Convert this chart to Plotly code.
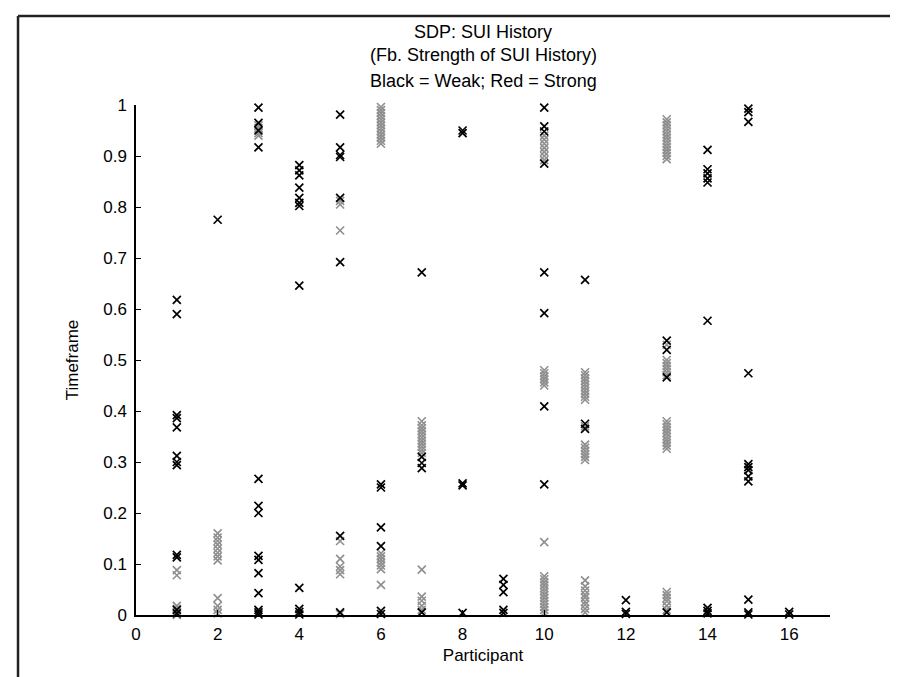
import plotly.graph_objects as go

participants = list(range(1, 17))

# Timeframe values per participant (index 0 -> participant 1)
weak_timeframes = [
    [0.618, 0.590, 0.392, 0.386, 0.368, 0.312, 0.300, 0.294, 0.118, 0.113, 0.010, 0.003],
    [0.775],
    [0.995, 0.965, 0.950, 0.917, 0.267, 0.214, 0.200, 0.116, 0.108, 0.082, 0.043, 0.010, 0.005, 0.001],
    [0.882, 0.872, 0.862, 0.838, 0.818, 0.808, 0.802, 0.646, 0.053, 0.012, 0.006, 0.001],
    [0.981, 0.917, 0.902, 0.898, 0.818, 0.692, 0.155, 0.005],
    [0.256, 0.250, 0.172, 0.135, 0.008, 0.002],
    [0.672, 0.310, 0.298, 0.288, 0.005],
    [0.950, 0.945, 0.258, 0.254, 0.004],
    [0.071, 0.059, 0.045, 0.010, 0.004],
    [0.995, 0.958, 0.948, 0.885, 0.672, 0.592, 0.409, 0.256],
    [0.657, 0.375, 0.365],
    [0.029, 0.006, 0.002],
    [0.538, 0.520, 0.466, 0.005],
    [0.912, 0.874, 0.866, 0.856, 0.848, 0.577, 0.014, 0.008, 0.003],
    [0.993, 0.986, 0.967, 0.474, 0.296, 0.290, 0.284, 0.272, 0.262, 0.030, 0.005, 0.001],
    [0.006, 0.001],
]

strong_timeframes = [
    [0.088, 0.078, 0.018, 0.012, 0.006, 0.0],
    [0.160, 0.152, 0.145, 0.138, 0.130, 0.122, 0.115, 0.107, 0.033, 0.018, 0.010, 0.003],
    [0.960, 0.955, 0.945, 0.940],
    [],
    [0.812, 0.805, 0.754, 0.145, 0.110, 0.095, 0.088, 0.080, 0.002],
    [0.996, 0.990, 0.984, 0.978, 0.972, 0.966, 0.960, 0.954, 0.948, 0.942, 0.936, 0.930, 0.924,
     0.121, 0.115, 0.109, 0.103, 0.097, 0.090, 0.059],
    [0.380, 0.372, 0.366, 0.360, 0.354, 0.348, 0.342, 0.336, 0.330, 0.324, 0.318,
     0.089, 0.036, 0.028, 0.018, 0.010],
    [],
    [],
    [0.940, 0.932, 0.924, 0.916, 0.908, 0.900, 0.892, 0.480, 0.474, 0.468, 0.462, 0.456, 0.450,
     0.143, 0.076, 0.070, 0.064, 0.058, 0.052, 0.046, 0.040, 0.034, 0.028, 0.022, 0.016, 0.010, 0.004],
    [0.476, 0.470, 0.464, 0.458, 0.452, 0.446, 0.440, 0.434, 0.428, 0.422, 0.370,
     0.334, 0.328, 0.322, 0.316, 0.310, 0.304,
     0.068, 0.056, 0.048, 0.040, 0.034, 0.026, 0.020, 0.012, 0.005],
    [],
    [0.972, 0.966, 0.960, 0.954, 0.948, 0.942, 0.936, 0.930, 0.924, 0.918, 0.912, 0.906, 0.900, 0.894,
     0.530, 0.500, 0.494, 0.488, 0.482, 0.476, 0.470,
     0.380, 0.374, 0.368, 0.362, 0.356, 0.350, 0.344, 0.338, 0.332, 0.326,
     0.045, 0.039, 0.033, 0.027, 0.018, 0.010],
    [],
    [],
    [],
]

x_ticks = [0, 2, 4, 6, 8, 10, 12, 14, 16]
y_ticks = [0, 0.1, 0.2, 0.3, 0.4, 0.5, 0.6, 0.7, 0.8, 0.9, 1]
y_tick_labels = ["0", "0.1", "0.2", "0.3", "0.4", "0.5", "0.6", "0.7", "0.8", "0.9", "1"]
title_lines = ["SDP: SUI History", "(Fb. Strength of SUI History)", "Black = Weak; Red = Strong"]

FONT = "Arial, Liberation Sans, Helvetica, sans-serif"
GREY = "#8f8f8f"

def flatten(groups):
    xs, ys = [], []
    for p, vals in zip(participants, groups):
        for v in vals:
            xs.append(p)
            ys.append(v)
    return xs, ys

sx, sy = flatten(strong_timeframes)
wx, wy = flatten(weak_timeframes)

fig = go.Figure()
fig.add_trace(go.Scatter(
    x=sx, y=sy, mode="markers", cliponaxis=False, showlegend=False,
    marker=dict(symbol="x-thin", size=8, color=GREY, line=dict(width=1.6, color=GREY)),
))
fig.add_trace(go.Scatter(
    x=wx, y=wy, mode="markers", cliponaxis=False, showlegend=False,
    marker=dict(symbol="x-thin", size=8, color="black", line=dict(width=1.7, color="black")),
))

# Title lines as annotations (paper y computed from plot area 97..607 px)
title_y = [1.143, 1.098, 1.047]
for txt, yy in zip(title_lines, title_y):
    fig.add_annotation(text=txt, x=0.5, y=yy, xref="paper", yref="paper",
                       showarrow=False, xanchor="center", yanchor="middle",
                       font=dict(family=FONT, size=18, color="black"))

# Figure border (top and left edges of the scanned frame)
fig.add_shape(type="line", xref="paper", yref="paper", x0=-0.170, x1=1.12, y0=1.1745, y1=1.1745,
              line=dict(color="#222", width=2.5))
fig.add_shape(type="line", xref="paper", yref="paper", x0=-0.170, x1=-0.170, y0=1.1745, y1=-0.15,
              line=dict(color="#222", width=2.5))

fig.update_layout(
    width=898, height=677,
    margin=dict(l=128, r=76, t=97, b=70),
    paper_bgcolor="white", plot_bgcolor="white",
    font=dict(family=FONT, size=18, color="black"),
)
fig.update_xaxes(
    range=[0, 17], tickvals=x_ticks, ticktext=[str(t) for t in x_ticks],
    showgrid=False, zeroline=False, showline=True, linecolor="black", linewidth=1.5,
    ticks="inside", ticklen=5, tickwidth=1, tickcolor="black",
    tickfont=dict(family=FONT, size=17), ticklabelstandoff=3,
    title=dict(text="Participant", font=dict(family=FONT, size=17), standoff=6),
)
fig.update_yaxes(
    range=[0, 1], tickvals=y_ticks, ticktext=y_tick_labels,
    showgrid=False, zeroline=False, showline=True, linecolor="black", linewidth=1.5,
    ticks="inside", ticklen=5, tickwidth=1, tickcolor="black",
    tickfont=dict(family=FONT, size=17), ticklabelstandoff=4,
    title=dict(text="Timeframe", font=dict(family=FONT, size=17), standoff=20),
)

fig.write_html("out.html")
